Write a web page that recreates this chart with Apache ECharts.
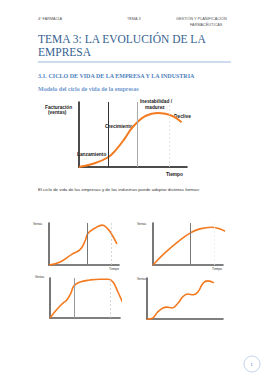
<!DOCTYPE html>
<html><head><meta charset="utf-8">
<script src="https://cdn.jsdelivr.net/npm/echarts@6/dist/echarts.min.js"></script>
<style>html,body{margin:0;padding:0;background:#fff}#c{width:269px;height:380px}</style>
</head><body><div id="c"></div>
<script>
// Main chart: company life-cycle curve (x = time 0-100, y = sales 0-100)
const mainCurve = [[0,0],[13,5],[27,15],[34,26],[42,43],[48,58],[54,69],[61,78],[72,83],[80,82],[88,77],[95,69]];
const mainStages = [27, 54];      // solid phase separators
const mainDashed = [84];
// Four small variant charts
const curve1 = [[0,0],[16,7],[33,26],[44,36],[51,55],[56,76],[66,88],[76,95],[84,86],[91,69],[97,50]];
const curve2 = [[0,0],[17,29],[39,60],[53,76],[67,86],[84,90],[96,86],[107,76]];
const curve3 = [[0,0],[9,20],[19,38],[24,45],[30,63],[34,80],[43,90],[57,95],[71,97],[83,97],[90,90],[97,65],[104,38]];
const curve4 = [[0,0],[7,2],[14,17],[21,27],[26,29],[33,27],[41,39],[47,54],[54,61],[61,59],[67,66],[74,88],[80,93],[88,88]];
const solid1 = [54], dashed1 = [89];
const solid2 = [53], dashed2 = [87];
const solid3 = [34], dashed3 = [86];

const ORANGE = '#f47a1f';
const grids = [
  {left:79, top:102, width:108, height:65},
  {left:49, top:223, width:70, height:42},
  {left:153, top:223, width:70, height:42},
  {left:50, top:278, width:70, height:40},
  {left:147, top:278, width:76, height:41}
];
const axisCol = ['#111','#555','#555','#555','#555'];
const xAxes = grids.map((g,i)=>({type:'value',gridIndex:i,min:0,max:100,axisLine:{show:true,onZero:false,lineStyle:{color:axisCol[i],width:i===0?1.5:1.6}},axisTick:{show:false},axisLabel:{show:false},splitLine:{show:false}}));
const yAxes = grids.map((g,i)=>({type:'value',gridIndex:i,min:0,max:100,axisLine:{show:true,onZero:false,lineStyle:{color:axisCol[i],width:i===0?1.5:1.6}},axisTick:{show:false},axisLabel:{show:false},splitLine:{show:false}}));

function vlines(solid, dashed, solidCol, dashCol){
  const d=[];
  solid.forEach((v,k)=>d.push({xAxis:v,lineStyle:{color:Array.isArray(solidCol)?solidCol[k]:solidCol,width:1,type:'solid'}}));
  dashed.forEach(v=>d.push({xAxis:v,lineStyle:{color:dashCol,width:0.8,type:[2,2]}}));
  return {symbol:['none','none'],silent:true,label:{show:false},data:d};
}
function ser(i,data,w,ml){
  return {type:'line',xAxisIndex:i,yAxisIndex:i,data:data,smooth:0.45,showSymbol:false,symbol:'none',clip:false,
    lineStyle:{color:ORANGE,width:w},markLine:ml,z:3};
}
const series = [
  ser(0,mainCurve,2,vlines(mainStages,mainDashed,['#333','#aaa'],'#ddd')),
  ser(1,curve1,1.6,vlines(solid1,dashed1,'#777','#ccc')),
  ser(2,curve2,1.6,vlines(solid2,dashed2,'#777','#eee')),
  ser(3,curve3,1.6,vlines(solid3,dashed3,'#999','#ccc')),
  ser(4,curve4,1.6,vlines([],[],'#777','#ccc'))
];

function txt(x,y,s,size,opts){
  return {type:'text',x:x,y:y,style:Object.assign({text:s,fontSize:size,fill:'#222',fontFamily:'Liberation Sans',textVerticalAlign:'middle'},opts||{})};
}
const hdr = {fill:'#555',fontFamily:'Liberation Sans'};
const lbl = {fontWeight:'bold',fill:'#222',fontFamily:'Liberation Sans'};
const graphic = [
  txt(38,19,'4º FARMACIA',3.8,hdr),
  txt(127,19,'TEMA 3',3.8,hdr),
  txt(176,19,'GESTIÓN Y PLANIFICACIÓN',3.8,hdr),
  txt(190,25,'FARMACÉUTICAS',3.8,hdr),
  txt(38,39,'TEMA 3: LA EVOLUCIÓN DE LA',11.5,{fill:'#365f91',fontFamily:'Liberation Serif'}),
  txt(38,52,'EMPRESA',11.5,{fill:'#365f91',fontFamily:'Liberation Serif'}),
  {type:'line',shape:{x1:38,y1:62,x2:231,y2:62},style:{stroke:'#9db9df',lineWidth:1}},
  txt(38,76,'3.1. CICLO DE VIDA DE LA EMPRESA Y LA INDUSTRIA',6,{fill:'#4f81bd',fontWeight:'bold',fontFamily:'Liberation Serif'}),
  txt(38,89,'Modelo del ciclo de vida de la empresas',6,{fill:'#6f98cf',fontWeight:'bold',fontFamily:'Liberation Serif'}),
  txt(45,107,'Facturación',4.8,lbl),
  txt(48,112,'(ventas)',4.8,lbl),
  txt(140,101,'Inestabilidad /',4.8,lbl),
  txt(145,107,'madurez',4.8,lbl),
  txt(174,116,'Declive',4.8,lbl),
  txt(105,126,'Crecimiento',4.8,lbl),
  txt(77,154,'Lanzamiento',4.8,lbl),
  txt(166,174,'Tiempo',4.8,lbl),
  txt(38,189,'El ciclo de vida de las empresas y de las industrias puede adoptar distintas formas:',4.4,{fill:'#333'}),
  txt(33,224,'Ventas',3,{fill:'#333'}),
  txt(109,269,'Tiempo',3,{fill:'#333'}),
  txt(137,224,'Ventas',3,{fill:'#333'}),
  txt(212,269,'Tiempo',3,{fill:'#333'}),
  txt(35,277,'Ventas',3,{fill:'#333'}),
  txt(137,279,'Ventas',3,{fill:'#333'}),
  {type:'circle',shape:{cx:252,cy:364,r:8},style:{fill:'#fff',stroke:'#c5d6ec',lineWidth:1}},
  txt(250.5,364,'1',4,{fill:'#4f81bd'})
];

const chart = echarts.init(document.getElementById('c'),null,{renderer:'svg'});
chart.setOption({animation:false,backgroundColor:'#fff',grid:grids,xAxis:xAxes,yAxis:yAxes,series:series,graphic:graphic});
</script></body></html>
